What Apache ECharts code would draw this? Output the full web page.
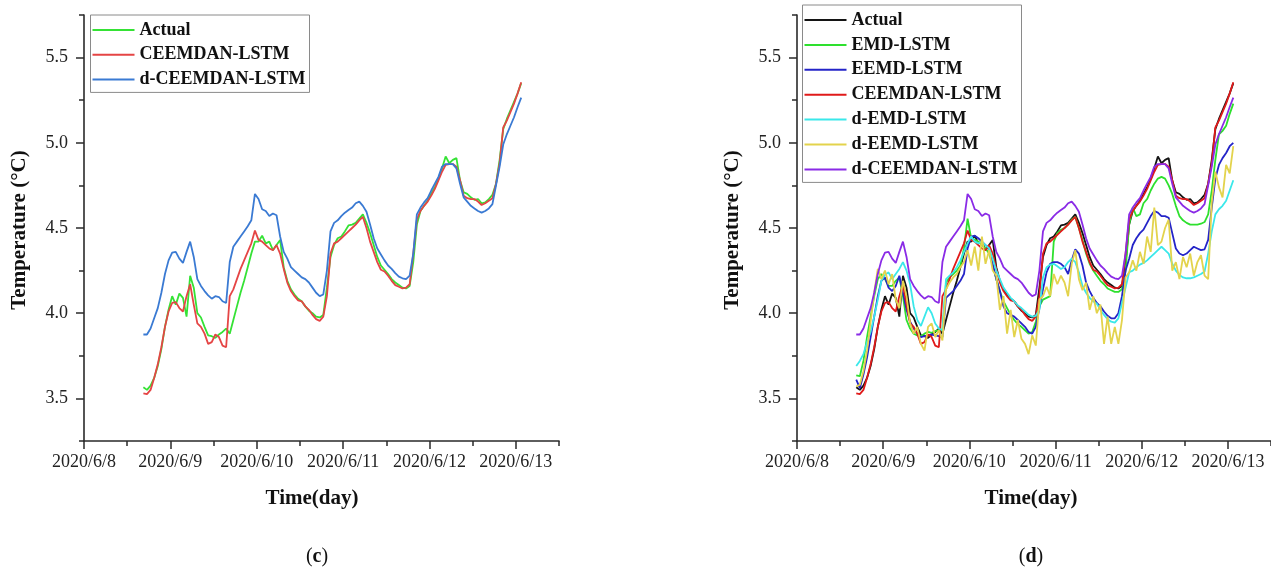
<!DOCTYPE html>
<html>
<head>
<meta charset="utf-8">
<script src="https://cdn.jsdelivr.net/npm/echarts@6/dist/echarts.min.js"></script>
<style>
html,body{margin:0;padding:0;background:#fff;}
#chart{width:1271px;height:576px;}
</style>
</head>
<body>
<div id="chart"></div>
<script>
// hours since 2020/6/8 00:00
const hours = [16.5,17.5,18.5,19.5,20.5,21.5,22.5,23.5,24.5,25.5,
26.5,27.5,28.5,29.5,30.5,31.5,32.5,33.5,34.5,35.5,
36.5,37.5,38.5,39.5,40.5,41.5,42.5,43.5,44.5,45.5,
46.5,47.5,48.5,49.5,50.5,51.5,52.5,53.5,54.5,55.5,
56.5,57.5,58.5,59.5,60.5,61.5,62.5,63.5,64.5,65.5,
66.5,67.5,68.5,69.5,70.5,71.5,72.5,73.5,74.5,75.5,
76.5,77.5,78.5,79.5,80.5,81.5,82.5,83.5,84.5,85.5,
86.5,87.5,88.5,89.5,90.5,91.5,92.5,93.5,94.5,95.5,
96.5,97.5,98.5,99.5,100.5,101.5,102.5,103.5,104.5,105.5,
106.5,107.5,108.5,109.5,110.5,111.5,112.5,113.5,114.5,115.5,
116.5,117.5,118.5,119.5,120.5,121.5];

const actual = [3.565,3.55,3.575,3.62,3.69,3.79,3.92,4.02,4.10,4.05,
4.115,4.09,3.98,4.22,4.15,4.00,3.975,3.92,3.87,3.865,
3.855,3.875,3.89,3.91,3.88,3.96,4.04,4.12,4.19,4.27,
4.35,4.42,4.42,4.455,4.41,4.42,4.37,4.40,4.43,4.27,
4.19,4.14,4.11,4.085,4.07,4.04,4.015,4.00,3.98,3.975,
3.99,4.15,4.33,4.40,4.44,4.45,4.48,4.515,4.52,4.53,
4.555,4.58,4.53,4.47,4.40,4.33,4.28,4.255,4.23,4.20,
4.18,4.165,4.15,4.145,4.16,4.30,4.52,4.60,4.63,4.66,
4.70,4.74,4.79,4.85,4.92,4.88,4.90,4.91,4.78,4.71,
4.70,4.68,4.665,4.67,4.645,4.65,4.67,4.695,4.76,4.90,
5.08,5.14,5.19,5.24,5.29,5.35];

const ceemdanLstm = [3.53,3.525,3.55,3.62,3.70,3.80,3.92,4.01,4.06,4.065,
4.03,4.01,4.10,4.17,4.05,3.94,3.92,3.88,3.82,3.83,
3.875,3.86,3.81,3.80,4.10,4.14,4.20,4.26,4.31,4.36,
4.41,4.485,4.43,4.42,4.40,4.38,4.37,4.40,4.35,4.26,
4.18,4.13,4.10,4.075,4.07,4.04,4.02,3.99,3.965,3.955,
3.98,4.10,4.35,4.41,4.42,4.44,4.46,4.48,4.50,4.52,
4.545,4.565,4.50,4.42,4.36,4.30,4.255,4.245,4.22,4.19,
4.165,4.155,4.145,4.15,4.17,4.35,4.55,4.60,4.63,4.655,
4.69,4.73,4.78,4.83,4.87,4.875,4.875,4.86,4.78,4.69,
4.675,4.67,4.67,4.655,4.635,4.645,4.66,4.675,4.76,4.88,
5.09,5.13,5.18,5.23,5.29,5.355];

const dCeemdanLstm = [3.875,3.875,3.91,3.97,4.03,4.12,4.23,4.31,4.355,4.36,
4.32,4.295,4.36,4.42,4.33,4.20,4.16,4.13,4.105,4.085,
4.10,4.095,4.07,4.06,4.30,4.39,4.42,4.45,4.48,4.51,
4.545,4.70,4.67,4.61,4.60,4.57,4.585,4.575,4.45,4.36,
4.32,4.27,4.25,4.23,4.21,4.20,4.18,4.15,4.12,4.10,
4.11,4.25,4.48,4.53,4.545,4.57,4.59,4.605,4.62,4.645,
4.655,4.63,4.595,4.52,4.44,4.38,4.345,4.31,4.28,4.26,
4.235,4.215,4.205,4.20,4.22,4.35,4.58,4.62,4.65,4.675,
4.72,4.76,4.80,4.86,4.875,4.875,4.875,4.85,4.76,4.68,
4.655,4.63,4.615,4.60,4.59,4.60,4.615,4.64,4.75,4.86,
4.99,5.05,5.10,5.15,5.21,5.265];

const emdLstm = [3.635,3.63,3.72,3.86,3.98,4.10,4.20,4.23,4.20,4.16,
4.16,4.19,4.21,4.10,3.96,3.91,3.88,3.87,3.865,3.88,
3.89,3.885,3.895,3.90,3.90,4.18,4.21,4.23,4.25,4.28,
4.38,4.555,4.44,4.43,4.42,4.40,4.38,4.35,4.28,4.20,
4.13,4.07,4.03,3.99,3.96,3.935,3.92,3.90,3.88,3.89,
3.95,4.04,4.08,4.09,4.10,4.42,4.47,4.49,4.50,4.52,
4.55,4.565,4.50,4.43,4.35,4.29,4.25,4.22,4.19,4.17,
4.145,4.135,4.125,4.125,4.14,4.25,4.52,4.62,4.57,4.58,
4.645,4.67,4.72,4.76,4.79,4.80,4.79,4.75,4.70,4.63,
4.57,4.545,4.53,4.52,4.52,4.52,4.525,4.535,4.58,4.72,
4.90,5.05,5.07,5.10,5.17,5.23];

const eemdLstm = [3.61,3.56,3.64,3.74,3.86,3.98,4.10,4.19,4.21,4.15,
4.13,4.16,4.22,4.12,4.02,3.95,3.91,3.88,3.86,3.865,
3.87,3.875,3.87,3.865,3.86,4.09,4.11,4.13,4.16,4.19,
4.23,4.38,4.45,4.455,4.44,4.42,4.40,4.38,4.29,4.20,
4.13,4.04,4.00,3.99,3.98,3.96,3.94,3.92,3.89,3.88,
3.92,4.03,4.14,4.24,4.29,4.30,4.30,4.29,4.27,4.23,
4.31,4.375,4.35,4.28,4.18,4.13,4.09,4.06,4.04,4.01,
3.985,3.97,3.97,4.00,4.10,4.25,4.32,4.40,4.44,4.47,
4.49,4.53,4.57,4.60,4.59,4.57,4.57,4.56,4.47,4.38,
4.35,4.34,4.35,4.37,4.39,4.38,4.37,4.375,4.43,4.62,
4.79,4.87,4.91,4.94,4.98,5.00];

const dEmdLstm = [3.69,3.72,3.76,3.83,3.89,3.98,4.08,4.19,4.225,4.24,
4.20,4.23,4.26,4.30,4.25,4.17,4.04,3.96,3.925,3.98,
4.035,4.00,3.94,3.91,3.90,4.20,4.22,4.24,4.27,4.31,
4.36,4.41,4.45,4.42,4.41,4.42,4.40,4.38,4.32,4.25,
4.20,4.15,4.12,4.09,4.07,4.045,4.03,4.01,3.99,3.98,
3.985,4.02,4.21,4.27,4.285,4.29,4.275,4.26,4.27,4.30,
4.32,4.30,4.24,4.16,4.12,4.09,4.07,4.055,4.02,3.99,
3.965,3.95,3.945,3.97,4.06,4.15,4.24,4.25,4.27,4.285,
4.295,4.31,4.33,4.35,4.37,4.39,4.37,4.35,4.29,4.25,
4.225,4.21,4.205,4.205,4.21,4.22,4.23,4.245,4.35,4.48,
4.58,4.61,4.63,4.66,4.72,4.78];

const dEemdLstm = [3.57,3.58,3.66,3.78,3.95,4.12,4.26,4.20,4.25,4.17,
4.23,4.08,4.03,4.19,4.10,3.94,3.88,3.92,3.82,3.78,
3.92,3.94,3.86,3.90,3.84,4.14,4.18,4.21,4.23,4.27,
4.30,4.37,4.28,4.39,4.25,4.45,4.29,4.37,4.25,4.22,
4.02,4.10,3.88,4.02,3.86,3.96,3.85,3.82,3.76,3.87,
3.81,4.08,4.10,4.155,4.10,4.23,4.17,4.22,4.18,4.10,
4.29,4.37,4.20,4.135,4.18,4.02,4.10,4.00,4.05,3.82,
3.98,3.82,3.92,3.82,3.96,4.21,4.24,4.31,4.25,4.36,
4.29,4.45,4.36,4.62,4.40,4.42,4.50,4.55,4.25,4.30,
4.20,4.33,4.27,4.35,4.22,4.30,4.34,4.22,4.20,4.65,
4.83,4.74,4.68,4.87,4.82,4.98];

const dayTicks = [0,24,48,72,96,120];
const halfDayTicks = [12,36,60,84,108,132];
const yMajorTicks = [3.5,4.0,4.5,5.0,5.5];
const yMinorTicks = [3.25,3.75,4.25,4.75,5.25,5.75];

const SERIF = '"Liberation Serif","Times New Roman",serif';
const AXIS_COLOR = '#2a2a2a';

function pairs(arr){ return arr.map((v,i)=>[hours[i], v]); }

function mainX(grid){
  return {
    type:'value', gridIndex:grid, position:'bottom', min:0, max:132,
    axisLine:{show:true, onZero:false, lineStyle:{color:AXIS_COLOR, width:1.6}},
    axisTick:{show:true, inside:false, length:8, customValues:dayTicks, lineStyle:{color:AXIS_COLOR, width:1.5}},
    axisLabel:{show:true, customValues:dayTicks, margin:12, color:'#222', fontFamily:SERIF, fontSize:18,
      formatter:(v)=>'2020/6/' + (8 + Math.round(v/24))},
    splitLine:{show:false}
  };
}
function minorX(grid){
  return {
    type:'value', gridIndex:grid, position:'bottom', min:0, max:132,
    axisLine:{show:false, onZero:false},
    axisTick:{show:true, inside:false, length:5, customValues:halfDayTicks, lineStyle:{color:AXIS_COLOR, width:1.5}},
    axisLabel:{show:false}, splitLine:{show:false}
  };
}
function mainY(grid){
  return {
    type:'value', gridIndex:grid, position:'left', min:3.25, max:5.75,
    axisLine:{show:true, onZero:false, lineStyle:{color:AXIS_COLOR, width:1.6}},
    axisTick:{show:true, inside:false, length:8, customValues:yMajorTicks, lineStyle:{color:AXIS_COLOR, width:1.5}},
    axisLabel:{show:true, customValues:yMajorTicks, margin:16, color:'#222', fontFamily:SERIF, fontSize:18,
      formatter:(v)=>v.toFixed(1)},
    splitLine:{show:false}
  };
}
function minorY(grid){
  return {
    type:'value', gridIndex:grid, position:'left', min:3.25, max:5.75,
    axisLine:{show:false, onZero:false},
    axisTick:{show:true, inside:false, length:5, customValues:yMinorTicks, lineStyle:{color:AXIS_COLOR, width:1.5}},
    axisLabel:{show:false}, splitLine:{show:false}
  };
}

function line(name, data, color, xi, yi){
  return {
    type:'line', name:name, data:pairs(data), xAxisIndex:xi, yAxisIndex:yi,
    showSymbol:false, symbol:'none', smooth:false, animation:false,
    lineStyle:{color:color, width:1.8}, itemStyle:{color:color}
  };
}

const leftColors = {actual:'#35e235', ceemdan:'#e54545', dceemdan:'#3a7ad3'};
const rightColors = {actual:'#141414', emd:'#2ee02e', eemd:'#2424c8', ceemdan:'#e01a1a',
  demd:'#3ae8ea', deemd:'#e3d34c', dceemdan:'#8a2be6'};

const legendText = {fontFamily:SERIF, fontWeight:'bold', fontSize:18, color:'#111', lineHeight:18};

const chart = echarts.init(document.getElementById('chart'), null, {renderer:'canvas'});
chart.setOption({
  backgroundColor:'#ffffff',
  animation:false,
  grid:[
    {left:84, top:15, width:475, height:426, containLabel:false},
    {left:797, top:15, width:474, height:426, containLabel:false}
  ],
  xAxis:[mainX(0), minorX(0), mainX(1), minorX(1)],
  yAxis:[mainY(0), minorY(0), mainY(1), minorY(1)],
  legend:[
    {
      orient:'vertical', left:90.5, top:15, padding:[6,4,4,2], itemGap:6.7,
      itemWidth:42, itemHeight:2, icon:'rect',
      borderColor:'#8a8a8a', borderWidth:1, backgroundColor:'#ffffff',
      textStyle:legendText, selectedMode:false,
      data:[
        {name:'Actual', itemStyle:{color:leftColors.actual}},
        {name:'CEEMDAN-LSTM', itemStyle:{color:leftColors.ceemdan}},
        {name:'d-CEEMDAN-LSTM', itemStyle:{color:leftColors.dceemdan}}
      ]
    },
    {
      orient:'vertical', left:802.5, top:5, padding:[6,4,4,2], itemGap:6.9,
      itemWidth:42, itemHeight:2, icon:'rect',
      borderColor:'#8a8a8a', borderWidth:1, backgroundColor:'#ffffff',
      textStyle:legendText, selectedMode:false,
      data:[
        {name:'Actual', itemStyle:{color:rightColors.actual}},
        {name:'EMD-LSTM', itemStyle:{color:rightColors.emd}},
        {name:'EEMD-LSTM', itemStyle:{color:rightColors.eemd}},
        {name:'CEEMDAN-LSTM', itemStyle:{color:rightColors.ceemdan}},
        {name:'d-EMD-LSTM', itemStyle:{color:rightColors.demd}},
        {name:'d-EEMD-LSTM', itemStyle:{color:rightColors.deemd}},
        {name:'d-CEEMDAN-LSTM', itemStyle:{color:rightColors.dceemdan}}
      ]
    }
  ],
  series:[
    line('Actual', actual, leftColors.actual, 0, 0),
    line('CEEMDAN-LSTM', ceemdanLstm, leftColors.ceemdan, 0, 0),
    line('d-CEEMDAN-LSTM', dCeemdanLstm, leftColors.dceemdan, 0, 0),

    line('Actual', actual, rightColors.actual, 2, 2),
    line('EMD-LSTM', emdLstm, rightColors.emd, 2, 2),
    line('EEMD-LSTM', eemdLstm, rightColors.eemd, 2, 2),
    line('CEEMDAN-LSTM', ceemdanLstm, rightColors.ceemdan, 2, 2),
    line('d-EMD-LSTM', dEmdLstm, rightColors.demd, 2, 2),
    line('d-EEMD-LSTM', dEemdLstm, rightColors.deemd, 2, 2),
    line('d-CEEMDAN-LSTM', dCeemdanLstm, rightColors.dceemdan, 2, 2)
  ],
  graphic:[
    {type:'text', x:20, y:230, rotation:Math.PI/2,
      style:{text:'Temperature (°C)', font:'bold 21px ' + SERIF, fill:'#111', align:'center', verticalAlign:'middle'}},
    {type:'text', x:733, y:230, rotation:Math.PI/2,
      style:{text:'Temperature (°C)', font:'bold 21px ' + SERIF, fill:'#111', align:'center', verticalAlign:'middle'}},
    {type:'text', x:312, y:499,
      style:{text:'Time(day)', font:'bold 21px ' + SERIF, fill:'#111', align:'center', verticalAlign:'middle'}},
    {type:'text', x:1031, y:499,
      style:{text:'Time(day)', font:'bold 21px ' + SERIF, fill:'#111', align:'center', verticalAlign:'middle'}},
    {type:'text', x:317, y:557,
      style:{text:'{a|(}{b|c}{a|)}', align:'center', verticalAlign:'middle',
        rich:{a:{font:'20px ' + SERIF, fill:'#111'}, b:{font:'bold 20px ' + SERIF, fill:'#111'}}}},
    {type:'text', x:1031, y:557,
      style:{text:'{a|(}{b|d}{a|)}', align:'center', verticalAlign:'middle',
        rich:{a:{font:'20px ' + SERIF, fill:'#111'}, b:{font:'bold 20px ' + SERIF, fill:'#111'}}}}
  ]
});
</script>
</body>
</html>
